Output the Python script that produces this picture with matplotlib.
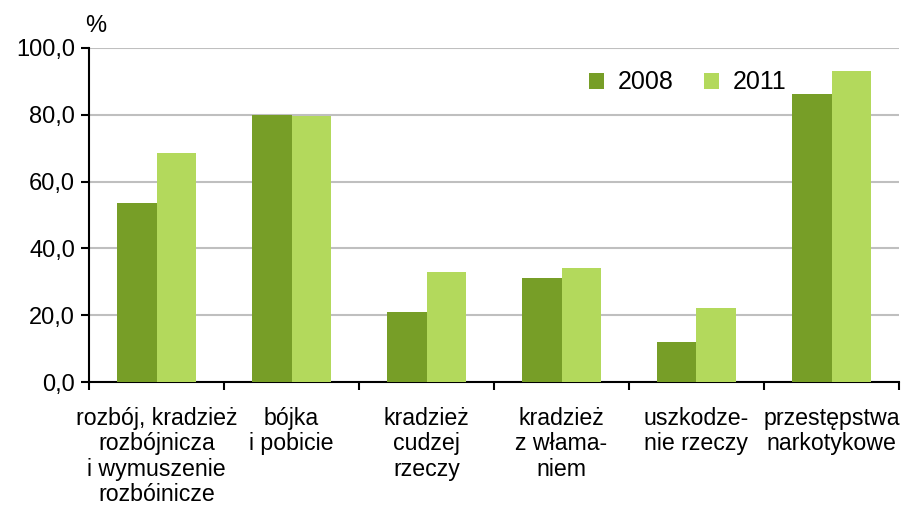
import numpy as np
import matplotlib.pyplot as plt

plt.rcParams['font.family'] = ['Liberation Sans', 'DejaVu Sans']

categories = [
    "rozbój, kradzież\nrozbójnicza\ni wymuszenie\nrozbóinicze",
    "bójka\ni pobicie",
    "kradzież\ncudzej\nrzeczy",
    "kradzież\nz włama-\nniem",
    "uszkodze-\nnie rzeczy",
    "przestępstwa\nnarkotykowe",
]
values_2008 = [53.7, 80.0, 20.9, 31.0, 11.9, 86.1]
values_2011 = [68.7, 79.5, 32.8, 34.0, 22.1, 93.1]
yticks = [0, 20, 40, 60, 80, 100]

c2008 = "#779E27"
c2011 = "#B3D95C"

fig = plt.figure(figsize=(9.07, 5.07), dpi=100)
ax = fig.add_axes([89 / 907, 1 - 382 / 507, 810 / 907, 334 / 507])

x = np.arange(len(categories))
w = 0.29
ax.bar(x - w / 2, values_2008, w, color=c2008, label="2008", zorder=3)
ax.bar(x + w / 2, values_2011, w, color=c2011, label="2011", zorder=3)

ax.set_xlim(-0.5, len(categories) - 0.5)
ax.set_ylim(0, 100)
ax.set_yticks(yticks)
ax.set_yticklabels([f"{v:.1f}".replace(".", ",") for v in yticks], fontsize=17)
ax.yaxis.grid(True, color="#BFBFBF", linewidth=1.5, zorder=0)

ax.set_xticks(x)
ax.set_xticklabels(categories, fontsize=16.7, linespacing=1.13)
ax.set_xticks(np.arange(-0.5, len(categories)), minor=True)
ax.tick_params(axis="x", which="major", length=0, pad=18)
ax.tick_params(axis="x", which="minor", length=6, width=1.5, direction="out")
ax.tick_params(axis="y", length=6, width=1.5, direction="out", pad=4)

for side in ["top", "right"]:
    ax.spines[side].set_visible(False)
ax.spines["left"].set_linewidth(1.5)
ax.spines["bottom"].set_linewidth(1.5)

fig.text(96 / 907, 1 - 26 / 507, "%", fontsize=17, ha="center", va="center")

ax.legend(loc="upper left", bbox_to_anchor=(0.59, 1.0), ncol=2, frameon=False,
          fontsize=18, handlelength=0.6, handleheight=0.6, handletextpad=0.55,
          columnspacing=1.2)

fig.savefig("out.png", dpi=100)
